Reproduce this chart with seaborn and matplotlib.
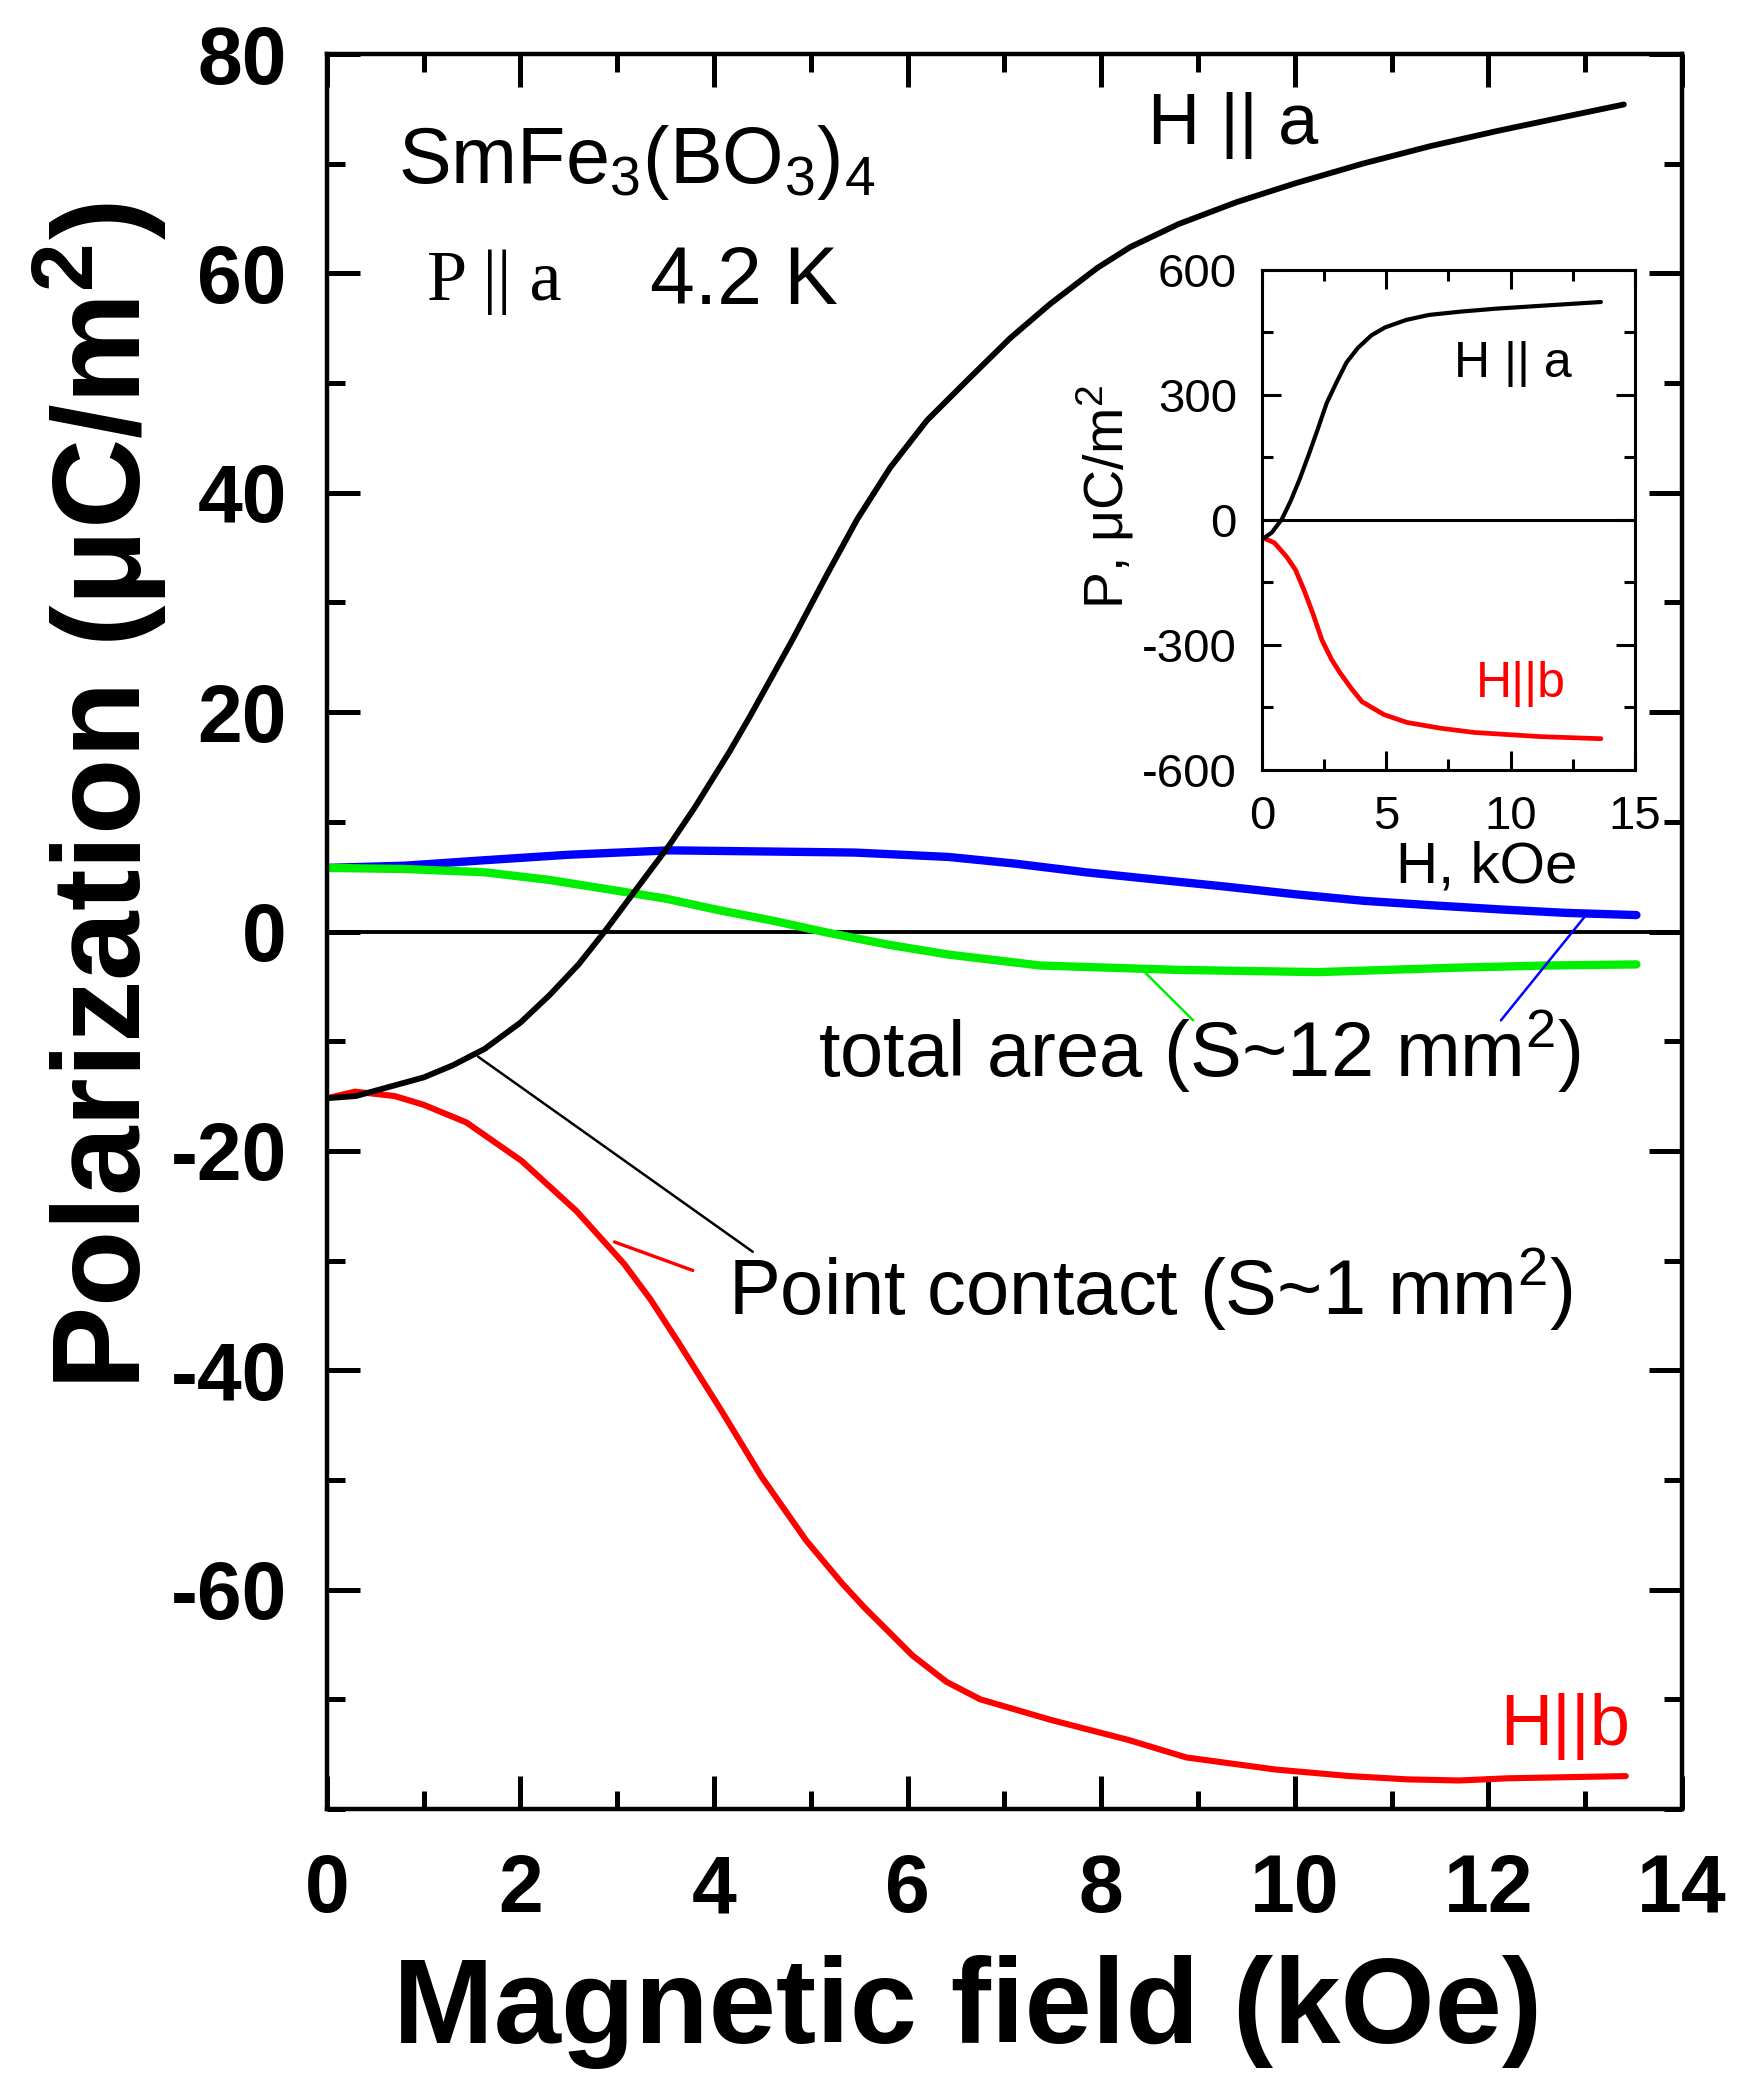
import matplotlib
matplotlib.use("Agg")
import matplotlib.pyplot as plt
import seaborn as sns
import pandas as pd
from matplotlib.ticker import MultipleLocator

# main panel, point contact (S~1 mm2)
pc_a_field = [0, 0.3, 0.67, 1.0, 1.3, 1.63, 2.0, 2.3, 2.6, 2.87, 3.2, 3.54, 3.8, 4.16, 4.37, 4.81, 5.17,
              5.48, 5.82, 6.2, 6.61, 7.06, 7.47, 7.96, 8.3, 8.8, 9.4, 10.0, 10.7, 11.4, 12.1, 12.8, 13.4]
pc_a_pol = [-15.2, -15.0, -14.1, -13.3, -12.2, -10.7, -8.3, -5.8, -3.0, 0.0, 3.9, 7.9, 11.3, 16.4, 19.6, 26.6, 32.6,
            37.6, 42.3, 46.6, 50.2, 54.1, 57.2, 60.5, 62.4, 64.5, 66.5, 68.2, 70.0, 71.6, 73.0, 74.3, 75.4]
pc_b_field = [0, 0.29, 0.7, 1.0, 1.44, 2.01, 2.58, 3.07, 3.34, 3.62, 4.07, 4.49, 4.95, 5.32, 5.55, 6.05,
              6.4, 6.75, 7.49, 8.28, 8.88, 9.8, 10.57, 11.17, 11.7, 12.2, 12.8, 13.42]
pc_b_pol = [-15.2, -14.6, -15.0, -15.8, -17.4, -20.9, -25.5, -30.3, -33.5, -37.3, -43.6, -49.7, -55.5, -59.4, -61.6, -66.0,
            -68.4, -70.0, -71.9, -73.7, -75.3, -76.4, -77.0, -77.3, -77.4, -77.2, -77.1, -77.0]

# main panel, total area (S~12 mm2)
ta_blue_field = [0, 0.8, 1.63, 2.5, 3.54, 4.5, 5.45, 6.42, 7.1, 7.84, 8.5, 9.28, 10.0, 10.71, 11.4, 12.15, 12.8, 13.53]
ta_blue_pol = [5.8, 6.0, 6.5, 7.0, 7.4, 7.3, 7.2, 6.8, 6.2, 5.4, 4.8, 4.1, 3.4, 2.8, 2.4, 2.0, 1.7, 1.5]
ta_green_field = [0, 0.8, 1.63, 2.3, 2.87, 3.5, 4.02, 4.6, 5.17, 5.8, 6.42, 7.37, 8.8, 10.24, 11.66, 12.6, 13.53]
ta_green_pol = [5.8, 5.7, 5.4, 4.7, 3.9, 3.0, 2.0, 1.0, -0.1, -1.2, -2.1, -3.1, -3.5, -3.7, -3.3, -3.1, -3.0]

# inset
ins_a_field = [0.08, 0.4, 0.8, 1.15, 1.53, 1.9, 2.25, 2.6, 2.98, 3.4, 3.86, 4.4, 4.95, 5.8, 6.72, 8.0, 9.41, 11.5, 13.63]
ins_a_pol = [-43.6, -30, 1.8, 45, 100, 160, 219, 280, 328, 378, 413, 443, 462, 480, 492, 500, 507, 515, 523]
ins_b_field = [0.08, 0.5, 1.0, 1.35, 1.69, 2.05, 2.41, 2.8, 3.14, 3.6, 4.02, 4.9, 5.83, 7.2, 8.53, 11.2, 13.63]
ins_b_pol = [-43.6, -55, -89, -120, -168, -225, -288, -335, -367, -405, -436, -467, -486, -500, -510, -520, -525]

# pointer lines (data coords)
ptr_green = ([8.46, 8.95], [-3.8, -8.1])
ptr_blue = ([13.0, 12.13], [1.4, -8.1])
ptr_black = ([1.56, 4.40], [-11.4, -29.2])
ptr_red = ([2.97, 3.78], [-28.3, -30.9])


def curve(ax, x, y, color, lw):
    df = pd.DataFrame({"x": x, "y": y})
    sns.lineplot(data=df, x="x", y="y", ax=ax, color=color, linewidth=lw,
                 estimator=None, sort=False, legend=False)


def style_ticks(ax, maj_len, min_len, width):
    ax.tick_params(which="both", direction="in", top=True, right=True, width=width,
                   color="black", labelcolor="black")
    ax.tick_params(which="major", length=maj_len)
    ax.tick_params(which="minor", length=min_len)


def main():
    sns.set_theme(style="ticks")
    plt.rcParams["font.family"] = ["Liberation Sans", "DejaVu Sans"]
    plt.rcParams["axes.unicode_minus"] = False
    plt.rcParams["text.color"] = "black"
    plt.rcParams["axes.labelcolor"] = "black"
    plt.rcParams["mathtext.fontset"] = "custom"
    plt.rcParams["mathtext.rm"] = "Liberation Sans"
    plt.rcParams["mathtext.it"] = "Liberation Sans:italic"
    plt.rcParams["mathtext.bf"] = "Liberation Sans:bold"

    fig = plt.figure(figsize=(17.52, 20.94), dpi=100)
    ax = fig.add_axes([0.1866, 0.1361, 0.7734, 0.8381])

    ax.axhline(0, color="black", lw=2.8, zorder=1)
    curve(ax, ta_blue_field, ta_blue_pol, "#0000ff", 6.0)
    curve(ax, ta_green_field, ta_green_pol, "#00ee00", 6.0)
    curve(ax, pc_b_field, pc_b_pol, "#ff0000", 4.4)
    curve(ax, pc_a_field, pc_a_pol, "black", 4.2)

    ax.plot(*ptr_green, color="#00ee00", lw=1.8)
    ax.plot(*ptr_blue, color="#0000ff", lw=1.8)
    ax.plot(*ptr_black, color="black", lw=1.8)
    ax.plot(*ptr_red, color="#ff0000", lw=2.4)

    ax.set_xlim(0, 14)
    ax.set_ylim(-80, 80)
    ax.xaxis.set_major_locator(MultipleLocator(2))
    ax.xaxis.set_minor_locator(MultipleLocator(1))
    ax.yaxis.set_major_locator(MultipleLocator(20))
    ax.yaxis.set_minor_locator(MultipleLocator(10))
    ax.set_yticks([-60, -40, -20, 0, 20, 40, 60, 80])
    style_ticks(ax, 24, 13, 3.6)
    ax.tick_params(axis="y", pad=29, labelsize=58)
    ax.tick_params(axis="x", pad=32, labelsize=58)
    for lab in ax.get_xticklabels() + ax.get_yticklabels():
        lab.set_fontweight("bold")
    for sp in ax.spines.values():
        sp.set_linewidth(3.2)
        sp.set_color("black")

    ax.set_xlabel("Magnetic field (kOe)", fontsize=87, fontweight="bold", va="center")
    ax.xaxis.set_label_coords(0.473, -0.1157)
    ax.set_ylabel(r"Polarization (μC/m$^\mathbf{2}$)", fontsize=90, fontweight="bold", va="center")
    ax.yaxis.set_label_coords(-0.1675, 0.577)

    ax.text(0.73, 68.2, r"SmFe$_3$(BO$_3$)$_4$", fontsize=57, va="baseline")
    ax.text(1.03, 57.6, "P || a", fontsize=52, family="Liberation Serif", va="baseline")
    ax.text(3.34, 57.2, "4.2 K", fontsize=58, va="baseline")
    ax.text(8.48, 71.8, "H || a", fontsize=52, va="baseline")
    ax.text(13.47, -74.2, "H||b", fontsize=52, color="#ff0000", ha="right", va="baseline")
    ax.text(5.07, -13.3, r"total area (S~12 mm$^2$)", fontsize=56, va="baseline")
    ax.text(4.14, -35.0, r"Point contact (S~1 mm$^2$)", fontsize=56, va="baseline")

    # inset
    ins = fig.add_axes([0.7203, 0.6323, 0.2129, 0.2388])
    ins.axhline(0, color="black", lw=2.2, zorder=1)
    curve(ins, ins_b_field, ins_b_pol, "#ff0000", 3.4)
    curve(ins, ins_a_field, ins_a_pol, "black", 3.0)
    ins.set_xlim(0, 15)
    ins.set_ylim(-600, 600)
    ins.xaxis.set_major_locator(MultipleLocator(5))
    ins.xaxis.set_minor_locator(MultipleLocator(2.5))
    ins.yaxis.set_major_locator(MultipleLocator(300))
    ins.yaxis.set_minor_locator(MultipleLocator(150))
    style_ticks(ins, 14, 8, 2.2)
    ins.tick_params(axis="y", pad=18, labelsize=34)
    ins.tick_params(axis="x", pad=18, labelsize=34)
    for sp in ins.spines.values():
        sp.set_linewidth(2.2)
        sp.set_color("black")
    ins.set_xlabel("H, kOe", fontsize=42, va="center")
    ins.xaxis.set_label_coords(0.603, -0.195)
    ins.set_ylabel(r"P, μC/m$^2$", fontsize=40, va="center")
    ins.yaxis.set_label_coords(-0.42, 0.546)
    ins.text(7.72, 344, "H || a", fontsize=36, va="baseline")
    ins.text(8.6, -424, "H||b", fontsize=36, color="#ff0000", va="baseline")

    fig.savefig("out.png", dpi=100)


if __name__ == "__main__":
    main()
